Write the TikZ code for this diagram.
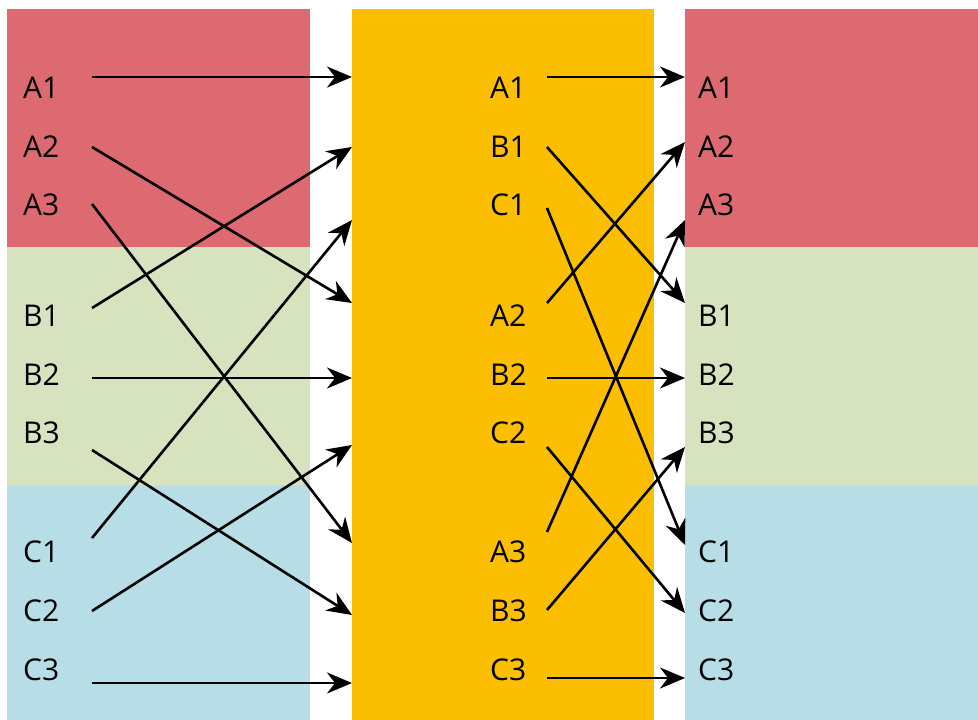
\documentclass[tikz,border=0pt]{standalone}
\usepackage{fontspec}
\setmainfont{Open Sans}
\usepackage{xcolor}
\usepackage{tikz}
\usetikzlibrary{arrows.meta}

\definecolor{rowA}{RGB}{221,106,113}
\definecolor{rowB}{RGB}{215,227,191}
\definecolor{rowC}{RGB}{183,221,231}
\definecolor{mid}{RGB}{251,190,0}

\tikzset{
  lbl/.style={anchor=west, inner sep=0pt, font=\fontsize{30}{36}\selectfont},
  link/.style={line width=2.6pt, -{Stealth[length=25pt,width=21pt,inset=8pt]}}
}

\begin{document}
\begin{tikzpicture}[x=1pt,y=-1pt]
				\useasboundingbox (0,0) rectangle (978,720);
				
				% Left column
				\fill[rowA] (7,9) rectangle (310,247);
				\fill[rowB] (7,247) rectangle (310,485);
				\fill[rowC] (7,485) rectangle (310,720);
				
				% Middle column
				\fill[mid] (352,9) rectangle (654,720);
				
				% Right column
				\fill[rowA] (685,9) rectangle (978,247);
				\fill[rowB] (685,247) rectangle (978,485);
				\fill[rowC] (685,485) rectangle (978,720);
				
				% Labels
				\foreach \n/\y in {A1/88,A2/147,A3/205,B1/316,B2/375,B3/433,C1/552,C2/611,C3/670}
				  \node[lbl] (L\n) at (23,\y) {\n};
				\foreach \n/\y in {A1/88,B1/147,C1/205,A2/316,B2/375,C2/433,A3/552,B3/611,C3/670}
				  \node[lbl] (M\n) at (490,\y) {\n};
				\foreach \n/\y in {A1/88,A2/147,A3/205,B1/316,B2/375,B3/433,C1/552,C2/611,C3/670}
				  \node[lbl] (R\n) at (698,\y) {\n};
				
				% Arrow ends, left to middle
				\foreach \n/\y in {A1/77,A2/147,A3/204,B1/308,B2/378,B3/450,C1/538,C2/611,C3/683}
				  \coordinate (Ls\n) at (92,\y);
				\foreach \n/\y in {A1/77,B1/147,C1/220,A2/303,B2/378,C2/445,A3/543,B3/615,C3/683}
				  \coordinate (Mt\n) at (352,\y);
				
				% Arrow ends, middle to right
				\foreach \n/\y in {A1/77,B1/147,C1/208,A2/303,B2/378,C2/447,A3/532,B3/610,C3/678}
				  \coordinate (Ms\n) at (547,\y);
				\foreach \n/\y in {A1/77,A2/142,A3/220,B1/303,B2/378,B3/447,C1/545,C2/613,C3/678}
				  \coordinate (Rt\n) at (685,\y);
				
				% Arrows
				\foreach \n in {A1,A2,A3,B1,B2,B3,C1,C2,C3} {
				  \draw[link] (Ls\n) -- (Mt\n);
				  \draw[link] (Ms\n) -- (Rt\n);
				}
				
\end{tikzpicture}
\end{document}
